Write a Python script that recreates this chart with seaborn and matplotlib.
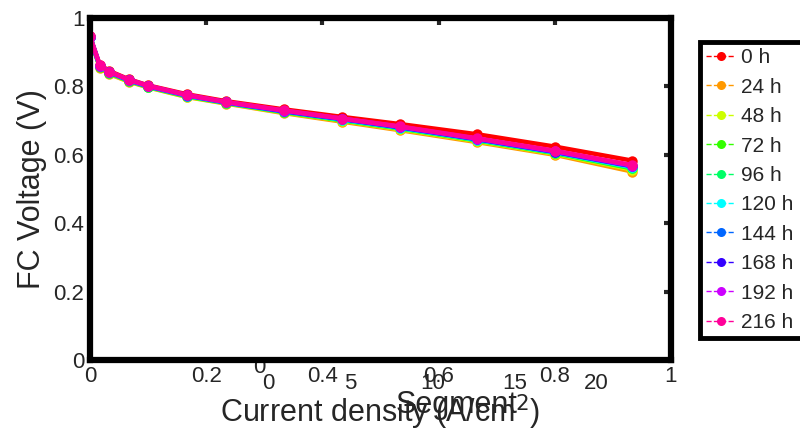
import numpy as np
import pandas as pd
import seaborn as sns
from matplotlib import pyplot as plt
from matplotlib.lines import Line2D

# data
current_density = [0, 0.0167, 0.0333, 0.0667, 0.1, 0.1667, 0.2333, 0.3333, 0.4333, 0.5333, 0.6667, 0.8, 0.9333]
hours = ['0 h', '24 h', '48 h', '72 h', '96 h', '120 h', '144 h', '168 h', '192 h', '216 h']
v0 = [0.946, 0.864, 0.845, 0.821, 0.803, 0.777, 0.757, 0.733, 0.711, 0.690, 0.660, 0.624, 0.583]
v24 = [0.945, 0.855, 0.836, 0.814, 0.797, 0.769, 0.750, 0.722, 0.697, 0.672, 0.637, 0.600, 0.551]
v48 = [0.945, 0.857, 0.838, 0.815, 0.798, 0.770, 0.751, 0.724, 0.700, 0.675, 0.640, 0.603, 0.557]
v72 = [0.945, 0.858, 0.839, 0.816, 0.799, 0.771, 0.752, 0.725, 0.701, 0.677, 0.642, 0.605, 0.560]
v96 = [0.945, 0.859, 0.840, 0.817, 0.799, 0.772, 0.752, 0.726, 0.702, 0.678, 0.643, 0.606, 0.562]
v120 = [0.945, 0.860, 0.841, 0.818, 0.800, 0.773, 0.753, 0.727, 0.703, 0.679, 0.644, 0.607, 0.564]
v144 = [0.945, 0.860, 0.841, 0.818, 0.800, 0.773, 0.753, 0.727, 0.704, 0.680, 0.645, 0.608, 0.566]
v168 = [0.945, 0.861, 0.842, 0.819, 0.801, 0.774, 0.754, 0.728, 0.705, 0.681, 0.646, 0.609, 0.567]
v192 = [0.945, 0.861, 0.842, 0.819, 0.801, 0.774, 0.754, 0.729, 0.706, 0.682, 0.647, 0.610, 0.568]
v216 = [0.946, 0.862, 0.843, 0.820, 0.802, 0.775, 0.755, 0.730, 0.706, 0.683, 0.648, 0.612, 0.570]
voltages = [v0, v24, v48, v72, v96, v120, v144, v168, v192, v216]

colors = ['#ff0000', '#ff9900', '#ccff00', '#33ff00', '#00ff66',
          '#00ffff', '#0066ff', '#3300ff', '#cc00ff', '#ff0099']

segment_ticks = [0, 5, 10, 15, 20]

rows = []
for h, v in zip(hours, voltages):
    for x, y in zip(current_density, v):
        rows.append({'j': x, 'V': y, 'time': h})
df = pd.DataFrame(rows)

sns.set_style('white')
plt.rcParams['font.family'] = ['Liberation Sans', 'DejaVu Sans']

fig = plt.figure(figsize=(8, 4.34), dpi=100)

# leftover "Segment" axes sitting behind the main one
ax2 = fig.add_axes([268 / 800, 0.1705 - 5 / 434, 378 / 800, 0.6])
ax2.set_xlim(0, 23)
ax2.set_ylim(0, 1)
ax2.set_xticks(segment_ticks)
ax2.set_yticks([0])
ax2.tick_params(axis='x', length=0, labelsize=16, pad=6)
ax2.tick_params(axis='y', length=0, labelsize=16, pad=2)
for s in ax2.spines.values():
    s.set_visible(False)
ax2.set_xlabel('Segment', fontsize=22, labelpad=-3)
ax2.set_zorder(0)

ax = fig.add_axes([90 / 800, 0.1705, 581 / 800, 0.788])
ax.set_zorder(1)
ax.set_facecolor('white')

sns.lineplot(data=df, x='j', y='V', hue='time', hue_order=hours, palette=colors,
             marker='o', markersize=7.5, markeredgewidth=0, linewidth=3.2,
             sort=False, legend=False, ax=ax)

ax.set_xlim(0, 1)
ax.set_ylim(0, 1)
ax.set_xticks(np.arange(0, 1.01, 0.2))
ax.set_yticks(np.arange(0, 1.01, 0.2))
ax.set_xticklabels(['0', '0.2', '0.4', '0.6', '0.8', '1'])
ax.set_yticklabels(['0', '0.2', '0.4', '0.6', '0.8', '1'])
ax.tick_params(direction='in', length=5, width=3, labelsize=16, pad=4,
               top=True, right=True)
for s in ax.spines.values():
    s.set_linewidth(4.5)
    s.set_color('black')
ax.set_xlabel('Current density (A/cm$^2$)', fontsize=22, labelpad=4)
ax.set_ylabel('FC Voltage (V)', fontsize=22, labelpad=5)

# legend box runs off the right edge of the figure, like the original
handles = [Line2D([], [], color=c, linestyle='--', linewidth=1, marker='o',
                  markersize=6.5, markeredgewidth=0) for c in colors]
leg = fig.legend(handles, hours, loc='upper left',
                 bbox_to_anchor=(700 / 800, 0, 0.2, 1 - 42 / 434), mode='expand',
                 fontsize=15, frameon=True, fancybox=False, framealpha=1,
                 edgecolor='black', handlelength=1.4, handletextpad=0.25,
                 labelspacing=0.5, borderpad=0.3, borderaxespad=0)
leg.get_frame().set_linewidth(3.5)

plt.savefig('out.png', dpi=100)
